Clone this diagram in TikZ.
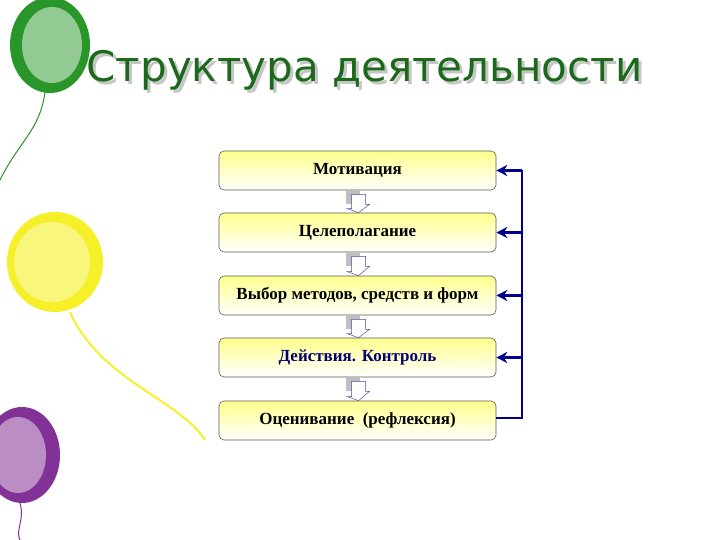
\documentclass[tikz,border=0pt]{standalone}
\usepackage{fontspec}
\setmainfont{Liberation Serif}
\newfontfamily\titlefont{DejaVu Sans}
\usetikzlibrary{arrows.meta,calc}
\definecolor{boxline}{RGB}{90,90,90}
\definecolor{fbnavy}{RGB}{0,0,140}
\definecolor{ballgreen}{RGB}{40,150,40}
\definecolor{ballyellow}{RGB}{245,240,40}
\definecolor{ballpurple}{RGB}{130,50,150}
\tikzset{
  stagebox/.style={draw=boxline, rounded corners=5pt, minimum width=277pt, minimum height=39pt,
    top color=yellow!45!white, bottom color=white, font=\bfseries\fontsize{17}{19}\selectfont, line width=0.6pt},
  fb/.style={draw=fbnavy, line width=2.4pt, -{Stealth[length=11pt,width=11pt]}},
  downarr/.style={draw=fbnavy!70, fill=white, line width=0.5pt},
  titletext/.style={font=\titlefont\fontsize{42}{48}\selectfont, anchor=west},
}
\begin{document}
\begin{tikzpicture}[x=1pt,y=-1pt]
\useasboundingbox (0,0) rectangle (720,540);
\fill[white] (0,0) rectangle (720,540);
% balloons
\fill[ballgreen] (50,45) ellipse (40 and 48);
\fill[ballgreen!50!white] (52,45) ellipse (30 and 38);
\draw[ballgreen, line width=1pt] (45,92) .. controls (40,130) and (20,140) .. (0,180);
\fill[ballyellow] (55,262) ellipse (48 and 50);
\fill[ballyellow!60!white] (52,262) ellipse (38 and 40);
\draw[ballyellow, line width=2pt] (70,312) .. controls (100,380) and (180,400) .. (205,440);
\fill[ballpurple] (22,455) ellipse (38 and 48);
\fill[ballpurple!55!white] (18,455) ellipse (28 and 38);
\draw[ballpurple, line width=1pt] (20,503) .. controls (25,520) and (15,530) .. (20,540);
% title
\node[titletext, text=gray!45] at (86,73) {Структура деятельности};
\node[titletext, text=ballgreen!70!black] (title) at (83,70) {Структура деятельности};
% boxes
\node[stagebox] (b1) at (357.5,170.5) {Мотивация};
\node[stagebox] (b2) at (357.5,232.5) {Целеполагание};
\node[stagebox] (b3) at (357.5,295.5) {Выбор методов, средств и форм};
\node[stagebox] (b4) at (357.5,357.5) {\textcolor{fbnavy!80!black}{Действия. Контроль}};
\node[stagebox] (b5) at (357.5,420.5) {Оценивание\ \ (рефлексия)};
% down arrows
\foreach \a/\b in {b1/b2,b2/b3,b3/b4,b4/b5}{
  \fill[gray!50] ($(\a.south)+(-12,0)$) -- ++(14,0) -- ++(0,14) -- ++(-14,0) -- cycle;
  \draw[downarr] ($(\a.south)+(-6,4)$) -- ++(14,0) -- ++(0,10) -- ++(4,0) -- ($(\b.north)+(1,0)$) -- ++(-11,-4) -- ++(4,0) -- cycle;
}
% feedback
\coordinate (fbtop) at (522,170.5);
\coordinate (fbbot) at (522,418);
\draw[fbnavy, line width=2.4pt] (b5.east |- fbbot) -- (fbbot) -- (fbtop);
\foreach \b in {b1,b2,b3,b4}{
  \draw[fb] (fbbot |- \b.east) -- (\b.east);
}
\end{tikzpicture}
\end{document}
